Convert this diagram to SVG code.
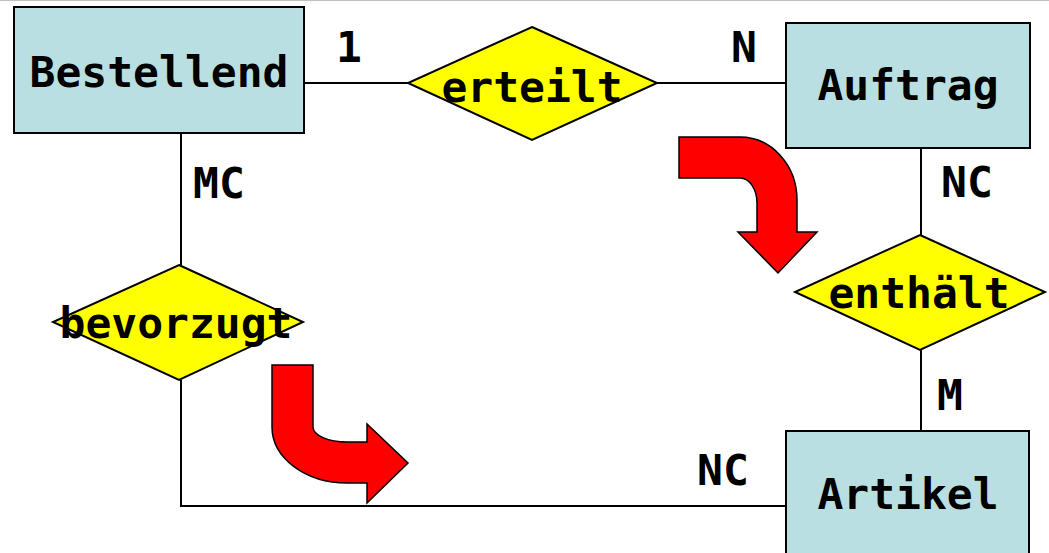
<svg xmlns="http://www.w3.org/2000/svg" width="1049" height="553" viewBox="0 0 1049 553">
  <style>
    .entity { fill: #BADFE2; stroke: #000; stroke-width: 2; }
    .relation { fill: #FFFF00; stroke: #000; stroke-width: 2; }
    .link { fill: none; stroke: #000; stroke-width: 2; }
    .flow { fill: #FF0000; stroke: #000; stroke-width: 1.5; stroke-linejoin: miter; }
    text { font-family: "DejaVu Sans Mono", "Liberation Mono", monospace; font-weight: bold; font-size: 43px; fill: #000; }
    .name { text-anchor: middle; }
  </style>
  <rect width="1049" height="553" fill="#fff"/>
  <line x1="0" y1="0.5" x2="1049" y2="0.5" stroke="#c0c0c0" stroke-width="1"/>

  <!-- connectors -->
  <g id="connectors">
    <line class="link" x1="304" y1="83" x2="408" y2="83"/>
    <line class="link" x1="657" y1="83" x2="786" y2="83"/>
    <line class="link" x1="921" y1="148" x2="921" y2="235"/>
    <line class="link" x1="921" y1="350" x2="921" y2="431"/>
    <line class="link" x1="181" y1="133" x2="181" y2="265"/>
    <polyline class="link" points="181,380 181,506 786,506"/>
  </g>

  <!-- cardinalities -->
  <g id="labels">
    <text x="336" y="62">1</text>
    <text x="731" y="62">N</text>
    <text x="193" y="198">MC</text>
    <text x="941" y="197">NC</text>
    <text x="937" y="410">M</text>
    <text x="697" y="485">NC</text>
  </g>

  <!-- entities -->
  <g id="Bestellend">
    <rect class="entity" x="14" y="7" width="290" height="126"/>
    <text class="name" x="159" y="87">Bestellend</text>
  </g>
  <g id="Auftrag">
    <rect class="entity" x="786" y="23" width="244" height="125"/>
    <text class="name" x="908" y="100">Auftrag</text>
  </g>
  <g id="Artikel">
    <rect class="entity" x="786" y="431" width="243" height="130"/>
    <text class="name" x="908" y="509">Artikel</text>
  </g>

  <!-- relationships -->
  <g id="erteilt">
    <polygon class="relation" points="532,27 657,83 532,140 408,83"/>
    <text class="name" x="532" y="102">erteilt</text>
  </g>
  <g id="enthaelt">
    <polygon class="relation" points="920,235 1045,292 920,350 795,292"/>
    <text class="name" x="919" y="308">enthält</text>
  </g>
  <g id="bevorzugt">
    <polygon class="relation" points="179,265 303,322 179,380 53,322"/>
    <text class="name" x="176" y="338">bevorzugt</text>
  </g>

  <!-- curved process arrows -->
  <g id="arrow-top">
    <path class="flow" d="M679,137 L740,137 A57,63 0 0 1 797,200 L797,232 L817,232 L778,273 L738,232 L757,232 L757,203 A17,25 0 0 0 740,178 L679,178 Z"/>
  </g>
  <g id="arrow-bottom">
    <path class="flow" d="M272,365 L313,365 L313,427 A34,15 0 0 0 347,442 L367,442 L367,424 L408,463 L367,503 L367,483 L347,483 A75,56 0 0 1 272,427 Z"/>
  </g>
</svg>
